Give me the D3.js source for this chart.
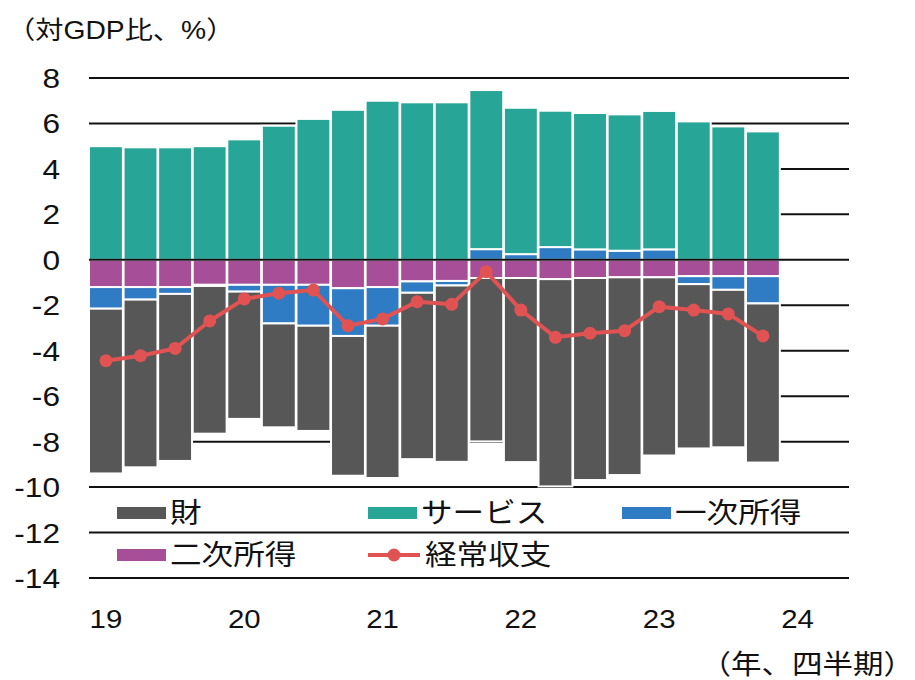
<!DOCTYPE html>
<html>
<head>
<meta charset="utf-8">
<script src="https://cdn.jsdelivr.net/npm/d3@7"></script>
<style>
  body { margin: 0; background: #fff; }
  text { font-family: "Liberation Sans", "Noto Sans CJK JP", sans-serif; fill: #111; }
</style>
</head>
<body>
<script>
// quarters 2019Q1 .. 2024Q2 (last two slots are empty)
const quarters = [
  "19Q1", "19Q2", "19Q3", "19Q4", "20Q1", "20Q2", "20Q3", "20Q4",
  "21Q1", "21Q2", "21Q3", "21Q4", "22Q1", "22Q2", "22Q3", "22Q4",
  "23Q1", "23Q2", "23Q3", "23Q4", "24Q1", "24Q2"
];
const yearTicks = ["19Q1", "20Q1", "21Q1", "22Q1", "23Q1", "24Q1"];
const yearLabels = ["19", "20", "21", "22", "23", "24"];
const yTicks = [8, 6, 4, 2, 0, -2, -4, -6, -8, -10, -12, -14];

// values, % of GDP
const goods = [-7.25, -7.38, -7.35, -6.5, -5.6, -4.57, -4.63, -6.15, -6.7, -7.32,
  -7.76, -7.19, -8.1, -9.12, -8.89, -8.7, -7.84, -7.23, -6.93, -7.0];
const services = [5.0, 4.95, 4.95, 5.0, 5.3, 5.9, 6.2, 6.6, 7.0, 6.93,
  6.93, 7.0, 6.44, 6.0, 6.0, 6.0, 6.09, 6.09, 5.87, 5.65];
const primaryIncome = [-0.95, -0.55, -0.3, -0.05, -0.3, -1.7, -1.8, -2.1, -1.7, -0.5,
  -0.2, 0.47, 0.25, 0.56, 0.46, 0.4, 0.46, -0.35, -0.6, -1.2];
const secondaryIncome = [-1.2, -1.2, -1.2, -1.1, -1.1, -1.1, -1.1, -1.25, -1.2, -0.95,
  -0.93, -0.8, -0.8, -0.85, -0.8, -0.77, -0.77, -0.72, -0.72, -0.72];
const currentAccount = [-4.44, -4.22, -3.9, -2.69, -1.72, -1.47, -1.33, -2.9, -2.6, -1.84,
  -1.96, -0.52, -2.21, -3.41, -3.23, -3.12, -2.06, -2.21, -2.38, -3.35];

const WIDTH = 915;
const HEIGHT = 680;
const PLOT_LEFT = 89;
const PLOT_RIGHT = 849;
const PLOT_TOP = 78;
const PLOT_BOTTOM = 578;
// the source picture is stretched sideways a little, text included
const TEXT_STRETCH = 1.13;

const COLORS = {
  goods: "#575757",
  services: "#27a596",
  primary: "#2f7bc4",
  secondary: "#a64f98",
  current: "#e15353"
};

const svg = d3.select("body").append("svg")
  .attr("width", WIDTH)
  .attr("height", HEIGHT);

const x = d3.scaleBand().domain(quarters).range([PLOT_LEFT, PLOT_RIGHT]).paddingInner(0.02);
const y = d3.scaleLinear().domain([-14, 8]).range([PLOT_BOTTOM, PLOT_TOP]);

// places a text at (tx, ty) and widens it
function placeText(sel, tx, ty) {
  return sel.attr("transform", (d, i) =>
    `translate(${tx(d, i)},${ty(d, i)}) scale(${TEXT_STRETCH},1)`);
}

// gridlines behind the bars (zero line is drawn later, on top)
svg.append("g")
  .selectAll("line")
  .data(yTicks.filter(d => d !== 0))
  .enter().append("line")
  .attr("x1", PLOT_LEFT)
  .attr("x2", PLOT_RIGHT)
  .attr("y1", d => y(d))
  .attr("y2", d => y(d))
  .attr("stroke", "#111")
  .attr("stroke-width", 2);

// stacked bars: order from zero outwards
const rows = goods.map((g, i) => ({
  q: quarters[i],
  secondary: secondaryIncome[i],
  primary: primaryIncome[i],
  services: services[i],
  goods: g
}));
const stack = d3.stack()
  .keys(["secondary", "primary", "services", "goods"])
  .offset(d3.stackOffsetDiverging);
const series = stack(rows);

svg.append("g")
  .selectAll("g")
  .data(series)
  .enter().append("g")
  .attr("fill", s => COLORS[s.key])
  .selectAll("rect")
  .data(s => s)
  .enter().append("rect")
  .attr("x", d => x(d.data.q))
  .attr("width", x.bandwidth())
  .attr("y", d => y(Math.max(d[0], d[1])))
  .attr("height", d => Math.abs(y(d[0]) - y(d[1])))
  .attr("stroke", "#fff")
  .attr("stroke-width", 2);

// zero line
svg.append("line")
  .attr("x1", PLOT_LEFT)
  .attr("x2", PLOT_RIGHT)
  .attr("y1", y(0))
  .attr("y2", y(0))
  .attr("stroke", "#111")
  .attr("stroke-width", 2);

// current account line
const line = d3.line()
  .x((d, i) => x(quarters[i]) + x.bandwidth() / 2)
  .y(d => y(d));
svg.append("path")
  .datum(currentAccount)
  .attr("d", line)
  .attr("fill", "none")
  .attr("stroke", COLORS.current)
  .attr("stroke-width", 4)
  .attr("stroke-linejoin", "round");
svg.append("g")
  .selectAll("circle")
  .data(currentAccount)
  .enter().append("circle")
  .attr("cx", (d, i) => x(quarters[i]) + x.bandwidth() / 2)
  .attr("cy", d => y(d))
  .attr("r", 6.5)
  .attr("fill", COLORS.current);

// y tick labels
svg.append("g")
  .selectAll("text")
  .data(yTicks)
  .enter().append("text")
  .call(placeText, () => 60, d => y(d) + 10)
  .attr("text-anchor", "end")
  .style("font-size", "28px")
  .text(d => d);

// x tick labels
svg.append("g")
  .selectAll("text")
  .data(yearTicks)
  .enter().append("text")
  .call(placeText, d => x(d) + x.bandwidth() / 2, () => 628)
  .attr("text-anchor", "middle")
  .style("font-size", "26px")
  .text((d, i) => yearLabels[i]);

// axis titles
svg.append("text")
  .datum(0)
  .call(placeText, () => 7, () => 39)
  .style("font-size", "25px")
  .text("（対GDP比、%）");
svg.append("text")
  .datum(0)
  .call(placeText, () => 914, () => 674)
  .attr("text-anchor", "end")
  .style("font-size", "27px")
  .text("（年、四半期）");

// legend
const legendItems = [
  { label: "財", key: "goods", x: 117, y: 513 },
  { label: "サービス", key: "services", x: 368, y: 513 },
  { label: "一次所得", key: "primary", x: 622, y: 513 },
  { label: "二次所得", key: "secondary", x: 117, y: 555 },
  { label: "経常収支", key: "current", x: 368, y: 555 }
];
const legend = svg.append("g")
  .selectAll("g")
  .data(legendItems)
  .enter().append("g")
  .attr("transform", d => `translate(${d.x},${d.y})`);
legend.filter(d => d.key !== "current").append("rect")
  .attr("x", 0)
  .attr("y", -6)
  .attr("width", 49)
  .attr("height", 12)
  .attr("fill", d => COLORS[d.key]);
const lineItem = legend.filter(d => d.key === "current");
lineItem.append("line")
  .attr("x1", 0)
  .attr("x2", 52)
  .attr("stroke", COLORS.current)
  .attr("stroke-width", 4);
lineItem.append("circle")
  .attr("cx", 26)
  .attr("r", 6.5)
  .attr("fill", COLORS.current);
legend.append("text")
  .call(placeText, d => d.key === "current" ? 57 : 53, () => 10)
  .style("font-size", "28px")
  .text(d => d.label);
</script>
</body>
</html>
